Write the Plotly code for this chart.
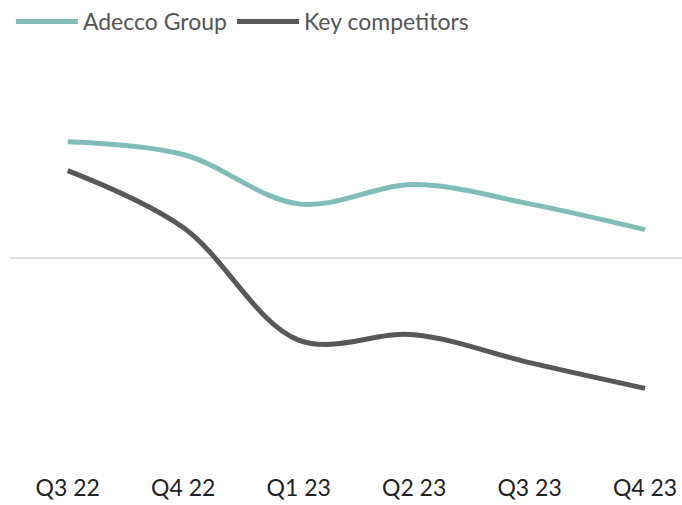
import plotly.graph_objects as go

# Quarterly comparison: Adecco Group vs key competitors
quarters = ["Q3 22", "Q4 22", "Q1 23", "Q2 23", "Q3 23", "Q4 23"]
adecco = [5.4, 4.8, 2.5, 3.4, 2.5, 1.3]
competitors = [4.05, 1.4, -3.85, -3.6, -4.9, -6.1]

TEAL = "#80bdb9"
DARK = "#58585a"

fig = go.Figure()
fig.add_trace(go.Scatter(
    x=quarters, y=adecco, name="Adecco Group", mode="lines",
    line=dict(color=TEAL, width=5, shape="spline", smoothing=1.0),
))
fig.add_trace(go.Scatter(
    x=quarters, y=competitors, name="Key competitors", mode="lines",
    line=dict(color=DARK, width=5, shape="spline", smoothing=1.0),
))

fig.update_layout(
    width=682, height=505,
    margin=dict(l=10, r=0, t=42, b=33),
    plot_bgcolor="white", paper_bgcolor="white",
    font=dict(family="Lato, 'Open Sans', sans-serif", color="#333333"),
    showlegend=True,
    legend=dict(
        orientation="h", x=0.016, y=1.0, xref="container", yref="container",
        xanchor="left", yanchor="top", itemwidth=62,
        font=dict(size=23, color="#555555"), bgcolor="rgba(0,0,0,0)",
        tracegroupgap=0,
    ),
    xaxis=dict(
        type="category", range=[-0.5, 5.32], showgrid=False, showline=False,
        zeroline=False, ticks="", tickfont=dict(size=23, color="#222222"),
    ),
    yaxis=dict(
        range=[-10, 10], showgrid=False, showline=False, showticklabels=False,
        zeroline=True, zerolinecolor="#dddddd", zerolinewidth=2, ticks="",
    ),
)

fig.write_html("out.html")
